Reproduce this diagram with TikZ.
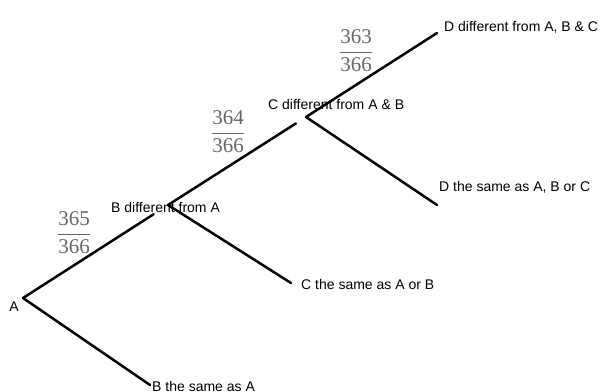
\documentclass[tikz,border=0pt]{standalone}
\usepackage{fontspec}
\setmainfont{Liberation Serif}
\setsansfont{Liberation Sans}
\usetikzlibrary{positioning}

\tikzset{
  branch/.style={line width=2.5pt, line cap=round},
  outcome/.style={font=\sffamily\fontsize{14}{16}\selectfont, inner sep=0pt, anchor=west},
  chance/.style={text=black!60, inner sep=0pt, font=\fontsize{21}{25}\selectfont},
}
\newcommand{\odds}[1]{$\displaystyle\frac{\mbox{#1}}{\mbox{366}}$}

\begin{document}
\begin{tikzpicture}[x=1pt,y=-1pt]
    \useasboundingbox (0,0) rectangle (602,391);

    % branch points and free ends
    \coordinate (A) at (23,298);
    \coordinate (B) at (168,205);
    \coordinate (C) at (306,117);
    \coordinate (Bsame) at (150,385);
    \coordinate (Csame) at (291,283);
    \coordinate (Ddiff) at (437,33);
    \coordinate (Dsame) at (437,205);

    % labels
    \node[outcome, anchor=center] (lblA) at (14,307) {A};
    \node[outcome] (lblBdiff) at (111,207) {B different from A};
    \node[outcome] (lblBsame) at (152,386) {B the same as A};
    \node[outcome] (lblCdiff) at (268,104) {C different from A \& B};
    \node[outcome] (lblCsame) at (301,284) {C the same as A or B};
    \node[outcome] (lblDdiff) at (444,27) {D different from A, B \& C};
    \node[outcome] (lblDsame) at (439,187) {D the same as A, B or C};

    \node[chance] (pB) at (74,233) {\odds{365}};
    \node[chance] (pC) at (228,132) {\odds{364}};
    \node[chance] (pD) at (356,51) {\odds{363}};

    % the tree
    \draw[branch, shorten >=17pt] (A) -- (B);
    \draw[branch] (A) -- (Bsame);
    \draw[branch, shorten >=12pt] (B) -- (C);
    \draw[branch] (B) -- (Csame);
    \draw[branch] (C) -- (Ddiff);
    \draw[branch] (C) -- (Dsame);
\end{tikzpicture}
\end{document}
